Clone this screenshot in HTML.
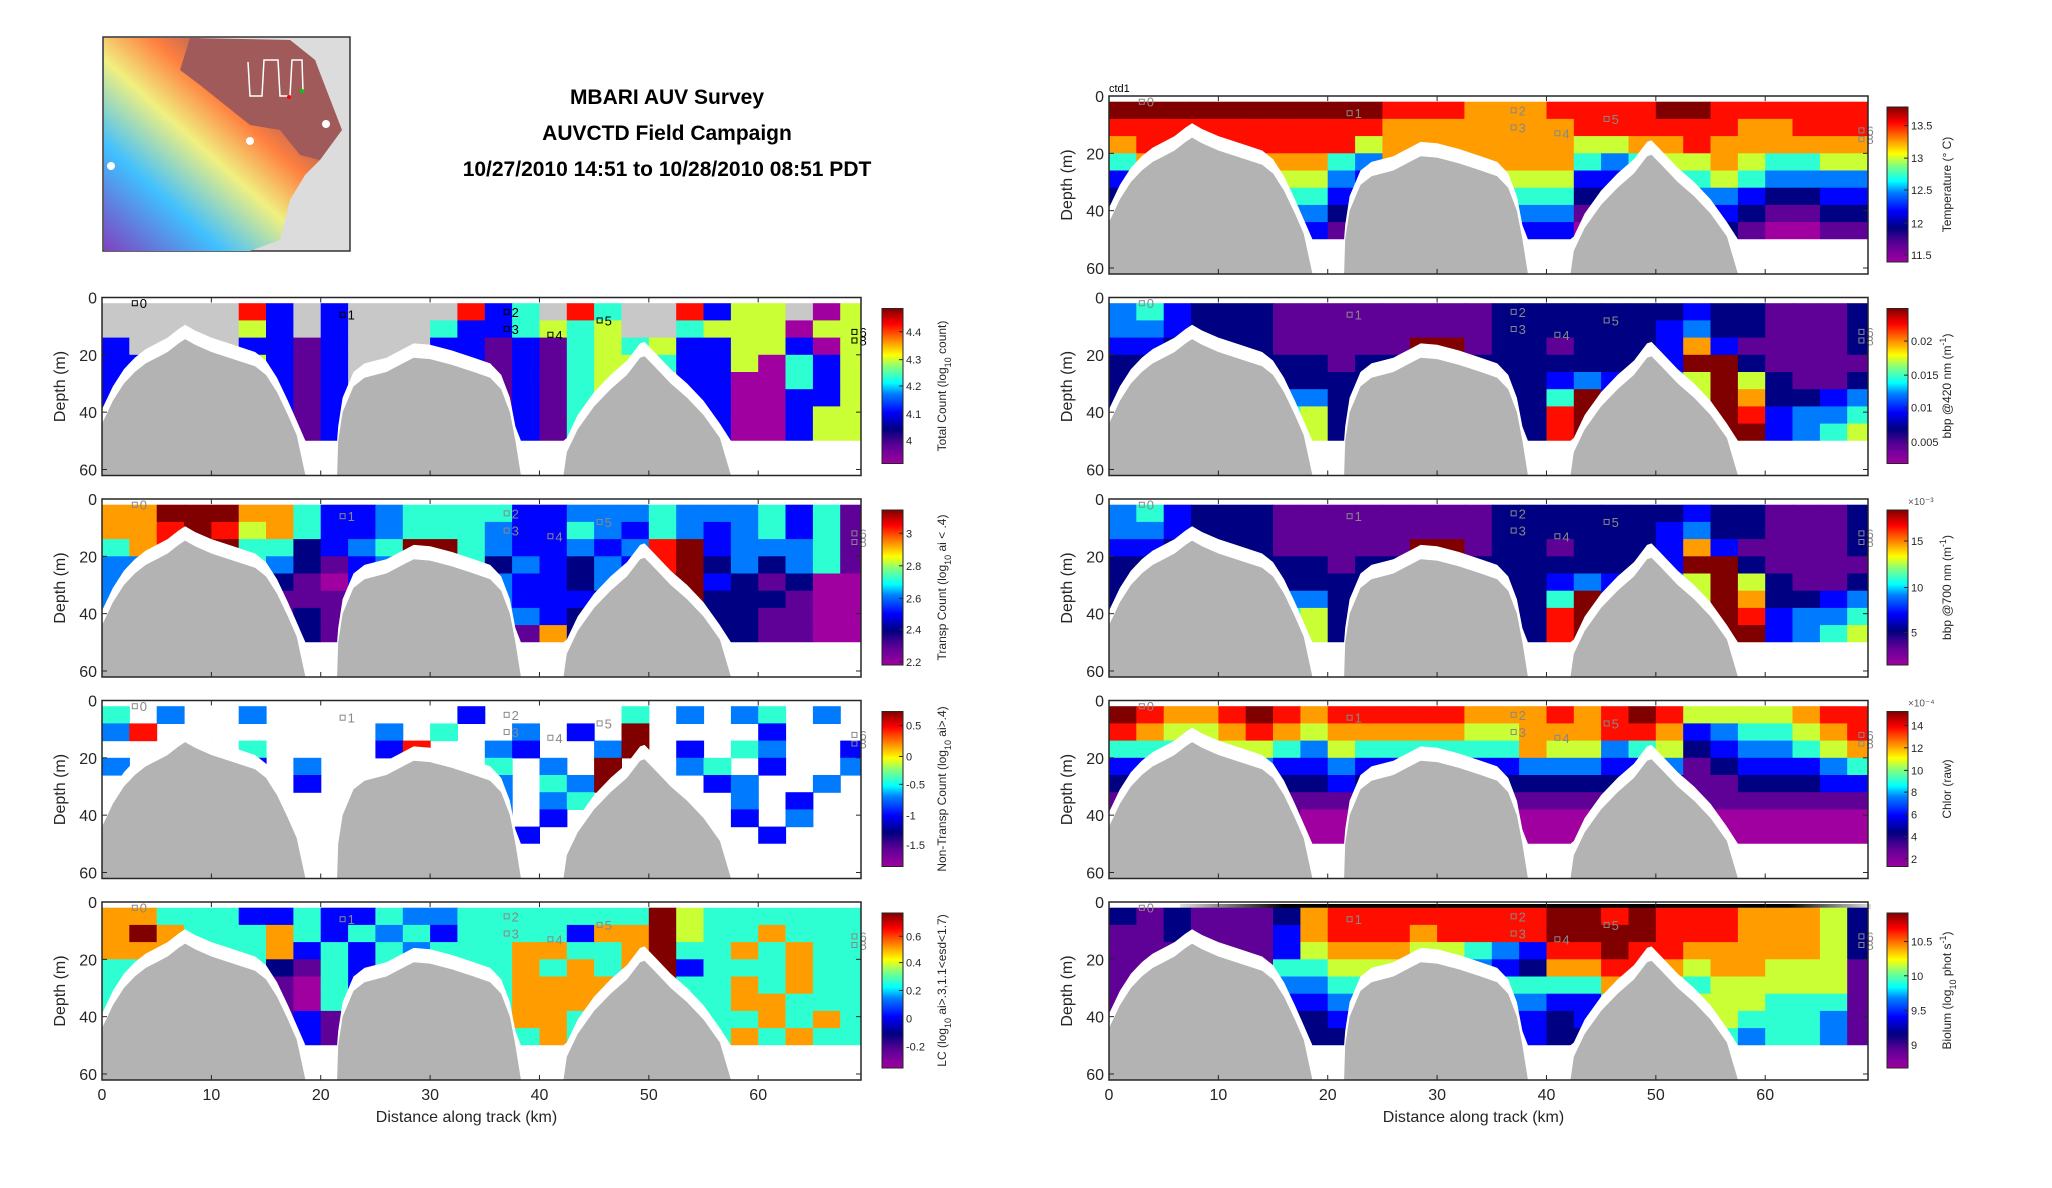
<!DOCTYPE html>
<html><head><meta charset="utf-8"><title>MBARI AUV Survey</title>
<style>
html,body{margin:0;padding:0;background:#fff;}
svg{display:block;font-family:"Liberation Sans","DejaVu Sans",sans-serif;}
</style></head>
<body>
<svg id="fig" width="2052" height="1188" viewBox="0 0 2052 1188" xmlns="http://www.w3.org/2000/svg">
<defs>
<linearGradient id="cmap" x1="0" y1="1" x2="0" y2="0">
<stop offset="0" stop-color="#a000a0"/><stop offset="0.12" stop-color="#5a0096"/><stop offset="0.22" stop-color="#00007f"/><stop offset="0.33" stop-color="#0000ff"/><stop offset="0.45" stop-color="#0080ff"/><stop offset="0.52" stop-color="#00ffff"/><stop offset="0.62" stop-color="#80ff80"/><stop offset="0.7" stop-color="#ffff00"/><stop offset="0.8" stop-color="#ff8000"/><stop offset="0.9" stop-color="#ff0000"/><stop offset="1" stop-color="#800000"/>
</linearGradient>
<linearGradient id="mapRainbow" x1="0" y1="1" x2="1" y2="0">
<stop offset="0" stop-color="#8040c0"/><stop offset="0.25" stop-color="#40c0ff"/><stop offset="0.45" stop-color="#f0f080"/><stop offset="0.6" stop-color="#ff8040"/><stop offset="0.75" stop-color="#a05a5a"/>
</linearGradient>
<linearGradient id="stripe" x1="0" y1="0" x2="1" y2="0">
<stop offset="0" stop-color="#e0e0e0"/><stop offset="0.15" stop-color="#000"/><stop offset="0.88" stop-color="#000"/><stop offset="1" stop-color="#e0e0e0"/>
</linearGradient>
</defs>

<g>
<rect x="103" y="37" width="247" height="214" fill="#dcdcdc" stroke="#333" stroke-width="1.5"/>
<polygon points="104,38 200,38 230,50 290,40 315,60 340,130 320,160 305,175 290,200 280,240 250,251 104,251" fill="url(#mapRainbow)"/>
<polygon points="190,38 290,40 315,60 342,130 320,160 300,155 280,130 250,125 225,105 200,85 180,70" fill="#a05a5a"/>
<polyline points="248,62 250,96 262,96 264,60 278,60 280,96 290,96 292,60 302,60 303,92" fill="none" stroke="#fff" stroke-width="1.5"/>
<circle cx="326" cy="124" r="4" fill="#fff"/><circle cx="250" cy="141" r="4" fill="#fff"/><circle cx="111" cy="166" r="4" fill="#fff"/>
<circle cx="289" cy="97" r="2" fill="#f00"/><circle cx="302" cy="91" r="2" fill="#0c0"/>
</g>

<g font-weight="bold" font-size="21" text-anchor="middle" fill="#000">
<text x="667" y="104">MBARI AUV Survey</text>
<text x="667" y="140">AUVCTD Field Campaign</text>
<text x="667" y="176">10/27/2010 14:51 to 10/28/2010 08:51 PDT</text>
</g>
<rect x="1180" y="904" width="691" height="5" fill="url(#stripe)"/>
<text x="1109" y="92" font-size="11" fill="#000">ctd1</text>
<g id="panels"></g>
</svg>
<script>
// ---- bathymetry (km, depth m) ----
const bathKm = [0,0.5,1,2,3,4,5,6,7,7.6,8.5,10,12,14,15,16,17,17.8,18.6,21.5,21.6,22,23,24,26,27.5,28.5,30,32,34,35.5,36.5,37.3,37.8,38.3,42.2,42.5,43.5,45,46.5,48,49.2,49.6,50.5,52,53.5,55,56.5,57.5,70];
const bathDepth = [44,40,36,30,26,23,21,19,16,14.5,16.5,19,21.5,24,27,33,41,48,62,62,50,40,31,28,26,23,21,21.5,23.5,26,28,32,40,50,62,62,54,46,38,32,27,21,20.5,24,30,35,41,49,62,62];

// ---- gridded fields: 28 columns (2.5 km) x 8 depth bands (6 m from 2 m); digit = colour level/9, g=no-data gray, w=blank ----
const tcGrid = ["ggggg83g3gggg835g85gg8366g06","ggggg63g3ggg5335656gg5666066","3gggg3313ggg3313156563366306","33ggg6313gg63313156653360536","333gg6313g663313156663300536","33333631336333131566633003366","3333363133633313156663300366","3333363133633313156663300366"];
const transpGrid = ["7799977533455553344454445351","7789867533455543354354345351","5789955234599543343489344451","4455554213455524324389242451","4444442103444443324299321200","4444441113444443332299222100","4444441213444444322298221100","4444441213444441723291221100"];
const nonTranspGrid = ["5w4ww4wwwwwww3wwwww5w4w45w4w","48wwwwwwww4w5ww4w3w9wwww3www","www4w5wwww38ww43ww49w3w54ww3","4wwww3w4wwwwww5w4w9ww45w3ww4","ww4ww4w3wwwww34w549www34ww4w","wwwwwwwwww5ww54w45wwwww4w3ww","wwwwwwwwwwwwww4w3wwwwww3w4ww","wwwwwwwwwwwwwww3wwwwwwww3www"];
const lcGrid = ["7755533533544555555596555555","7975557535453555537796557555","7775557353545557755795575755","5555552153545557575793555755","5555551053545557777795575755","5555551053545557777795577555","5555551313555557757795557575","5555550313555555757795575755"];
const tempGrid = ["9999999999888777888899888888","8888888888777777788888877888","7888888886777777766778777777","5777777754777777754566765566","3666666643666666633455654444","2555555532555555522344432233","1444444421444444411233321122","0333333310333333300122210011"];
const bbp420Grid = ["4532221111111122222223221112","4432221111111122222234221112","3322221111199122122237311112","2222222212222222222239921111","2222222222222222343346962112","2222224422222222593366972234","2222225622222222894477983445","2222227622222222894477993456"];
const bbp700Grid = ["4532221111111122222223221112","4432221111111122222234221112","3322221111199122122237311112","2222222212222222222239921111","2222222222222222343346962112","2222224422222222593366972234","2222225622222222894477983445","2222227622222222894477993456"];
const chlGrid = ["9877898788888777878986666788","8766787677777667778873455678","5555665465555557664562344567","3333443343333334443341233345","2222222232222222222221122233","1111111111111111111111111111","0000001000000000000000000000","0000000000000000000000000000"];
const bioGrid = ["2121112788888888998988877762","1121113788878888999988877762","1111113677766543889887777762","1111115566655432778876776661","1111114455555555557765666661","1111113344444444335556665551","1111112233333333234445655541","1111111223333333224445545541"];

// ---- colorbar ticks (fraction of bar) and labels ----
const tcTicks = [0.15,0.32,0.5,0.67,0.85]; const tcLabels = ["4","4.1","4.2","4.3","4.4"];
const transpTicks = [0.02,0.23,0.43,0.64,0.85]; const transpLabels = ["2.2","2.4","2.6","2.8","3"];
const nonTranspTicks = [0.14,0.33,0.53,0.71,0.91]; const nonTranspLabels = ["-1.5","-1","-0.5","0","0.5"];
const lcTicks = [0.14,0.32,0.5,0.68,0.85]; const lcLabels = ["-0.2","0","0.2","0.4","0.6"];
const tempTicks = [0.045,0.25,0.465,0.67,0.88]; const tempLabels = ["11.5","12","12.5","13","13.5"];
const bbp420Ticks = [0.14,0.36,0.57,0.79]; const bbp420Labels = ["0.005","0.01","0.015","0.02"];
const bbp700Ticks = [0.21,0.5,0.8]; const bbp700Labels = ["5","10","15"];
const chlTicks = [0.05,0.193,0.336,0.48,0.62,0.766,0.91]; const chlLabels = ["2","4","6","8","10","12","14"];
const bioTicks = [0.15,0.37,0.595,0.816]; const bioLabels = ["9","9.5","10","10.5"];

const xTicks = [0,10,20,30,40,50,60];
const yTicks = [0,20,40,60];
const markerLabels = ["0","1","2","3","4","5","6","8"];
const markerKm = [3,22,37,37,41,45.5,68.8,68.8];
const markerDepth = [2,6,5,11,13,8,12,15];

const NS = "http://www.w3.org/2000/svg";
const XMAX = 69.4, YMAX = 62.1, PW = 759, PH = 178;
const tops = [96,297.5,499,700.5,902];
const stops = [[0,[160,0,160]],[0.12,[90,0,150]],[0.22,[0,0,127]],[0.33,[0,0,255]],[0.45,[0,128,255]],[0.52,[0,255,255]],[0.62,[128,255,128]],[0.7,[255,255,0]],[0.8,[255,128,0]],[0.9,[255,0,0]],[1,[128,0,0]]];
function cmap(t){for(let i=1;i<stops.length;i++){if(t<=stops[i][0]){const a=stops[i-1],b=stops[i],f=(t-a[0])/(b[0]-a[0]);const c=a[1].map((v,k)=>Math.round(v+(b[1][k]-v)*f));return `rgb(${c[0]},${c[1]},${c[2]})`;}}return "rgb(128,0,0)";}
function el(tag,attrs,parent){const e=document.createElementNS(NS,tag);for(const k in attrs)e.setAttribute(k,attrs[k]);parent.appendChild(e);return e;}
const root = document.getElementById("panels");

const panels = [
 {x0:102,row:1,grid:tcGrid,ticks:tcTicks,labels:tcLabels,title:'Total Count (log<tspan baseline-shift="sub" font-size="9">10</tspan> count)',name:"total-count",mk:"#000"},
 {x0:102,row:2,grid:transpGrid,ticks:transpTicks,labels:transpLabels,title:'Transp Count (log<tspan baseline-shift="sub" font-size="9">10</tspan> ai &lt; .4)',name:"transp-count",mk:"#888"},
 {x0:102,row:3,grid:nonTranspGrid,ticks:nonTranspTicks,labels:nonTranspLabels,title:'Non-Transp Count (log<tspan baseline-shift="sub" font-size="9">10</tspan> ai&gt;.4)',name:"non-transp-count",mk:"#888"},
 {x0:102,row:4,grid:lcGrid,ticks:lcTicks,labels:lcLabels,title:'LC (log<tspan baseline-shift="sub" font-size="9">10</tspan> ai&gt;.3,1.1&lt;esd&lt;1.7)',name:"lc",mk:"#888"},
 {x0:1109,row:0,grid:tempGrid,ticks:tempTicks,labels:tempLabels,title:'Temperature (° C)',name:"temperature",mk:"#888"},
 {x0:1109,row:1,grid:bbp420Grid,ticks:bbp420Ticks,labels:bbp420Labels,title:'bbp @420 nm (m<tspan baseline-shift="super" font-size="9">-1</tspan>)',name:"bbp420",mk:"#888"},
 {x0:1109,row:2,grid:bbp700Grid,ticks:bbp700Ticks,labels:bbp700Labels,title:'bbp @700 nm (m<tspan baseline-shift="super" font-size="9">-1</tspan>)',name:"bbp700",mk:"#888",exp:"×10⁻³"},
 {x0:1109,row:3,grid:chlGrid,ticks:chlTicks,labels:chlLabels,title:'Chlor (raw)',name:"chlorophyll",mk:"#888",exp:"×10⁻⁴"},
 {x0:1109,row:4,grid:bioGrid,ticks:bioTicks,labels:bioLabels,title:'Biolum (log<tspan baseline-shift="sub" font-size="9">10</tspan> phot s<tspan baseline-shift="super" font-size="9">-1</tspan>)',name:"biolum",mk:"#888"}
];

panels.forEach((p,pi)=>{
  const top=tops[p.row], x0=p.x0;
  const X=km=>x0+km*PW/XMAX, Y=d=>top+d*PH/YMAX;
  const g=el("g",{},root);
  
  
  const cid="clip"+pi;
  const cp=el("clipPath",{id:cid},g); el("rect",{x:x0,y:top,width:PW,height:PH},cp);
  const cells=el("g",{"clip-path":`url(#${cid})`},g);
  
  
  p.grid.forEach((rowStr,r)=>{
    for(let c=0;c<28;c++){
      const ch=rowStr[c]||rowStr[rowStr.length-1];
      if(ch==="w")continue;
      const fill = ch==="g" ? "#c8c8c8" : cmap(parseInt(ch,10)/9);
      const rc=el("rect",{x:X(c*2.5).toFixed(1),y:Y(2+6*r).toFixed(1),width:(PW*2.5/XMAX+0.6).toFixed(1),height:(PH*6/YMAX+0.6).toFixed(1),fill:fill},cells);
      
      
    }
  });
  let wp=bathKm.map((k,i)=>`${X(k).toFixed(1)},${Y(Math.min(50,bathDepth[i]-5)).toFixed(1)}`);
  wp.push(`${X(XMAX+1)},${Y(50)}`,`${X(XMAX+1)},${Y(YMAX)}`,`${X(0)},${Y(YMAX)}`);
  const wm=el("polygon",{points:wp.join(" "),fill:"#fff","clip-path":`url(#${cid})`},g);
  
  
  let gp=bathKm.map((k,i)=>`${X(k).toFixed(1)},${Y(bathDepth[i]).toFixed(1)}`);
  gp.push(`${X(XMAX+1)},${Y(YMAX)}`,`${X(0)},${Y(YMAX)}`);
  const sf=el("polygon",{points:gp.join(" "),fill:"#b3b3b3","clip-path":`url(#${cid})`},g);
  
  
  markerLabels.forEach((m,i)=>{
    el("rect",{x:X(markerKm[i])-2.5,y:Y(markerDepth[i])-2.5,width:5,height:5,fill:"none",stroke:p.mk,"stroke-width":1},g);
    const t=el("text",{x:X(markerKm[i])+5,y:Y(markerDepth[i])+5,"font-size":13,fill:p.mk},g);
    t.textContent=m;
    
    
  });
  const fr=el("rect",{x:x0,y:top,width:PW,height:PH,fill:"none",stroke:"#262626","stroke-width":1.5},g);
  
  
  xTicks.forEach(v=>{el("line",{x1:X(v),x2:X(v),y1:top,y2:top+5,stroke:"#262626"},g);el("line",{x1:X(v),x2:X(v),y1:top+PH,y2:top+PH-5,stroke:"#262626"},g);});
  yTicks.forEach(v=>{
    el("line",{x1:x0,x2:x0+5,y1:Y(v),y2:Y(v),stroke:"#262626"},g);
    el("line",{x1:x0+PW,x2:x0+PW-5,y1:Y(v),y2:Y(v),stroke:"#262626"},g);
    const t=el("text",{x:x0-5,y:Y(v)+6,"font-size":16,"text-anchor":"end",fill:"#262626"},g);
    t.textContent=v;
    
    
  });
  const yt=el("text",{x:0,y:0,"font-size":16,"text-anchor":"middle",fill:"#262626",transform:`translate(${x0-37},${top+PH/2}) rotate(-90)`},g);
  yt.textContent="Depth (m)";
  
  
  if(p.row===4){
    xTicks.forEach(v=>{
      const t=el("text",{x:X(v),y:top+PH+20,"font-size":16,"text-anchor":"middle",fill:"#262626"},g);
      t.textContent=v;
      
      
    });
    const xt=el("text",{x:x0+PW/2-15,y:top+PH+42,"font-size":16,"text-anchor":"middle",fill:"#262626"},g);
    xt.textContent="Distance along track (km)";
    
    
  }
  const cbx = x0===102 ? 882 : 1887, cby=top+11, cbh=155;
  const cb=el("rect",{x:cbx,y:cby,width:21,height:cbh,fill:"url(#cmap)",stroke:"#262626","stroke-width":1},g);
  
  
  p.ticks.forEach((f,i)=>{
    const yy=cby+cbh*(1-f);
    el("line",{x1:cbx+21,x2:cbx+17,y1:yy,y2:yy,stroke:"#262626"},g);
    const t=el("text",{x:cbx+24,y:yy+4,"font-size":11,fill:"#262626"},g);
    t.textContent=p.labels[i];
    
    
  });
  if(p.exp){
    const t=el("text",{x:cbx+21,y:cby-5,"font-size":10,fill:"#555"},g);
    t.textContent=p.exp;
    
    
  }
  const ct=el("text",{x:0,y:0,"font-size":12,"text-anchor":"middle",fill:"#262626",transform:`translate(${cbx+64},${cby+cbh/2}) rotate(-90)`},g);
  ct.innerHTML=p.title;
  
  
});
</script>
</body></html>
